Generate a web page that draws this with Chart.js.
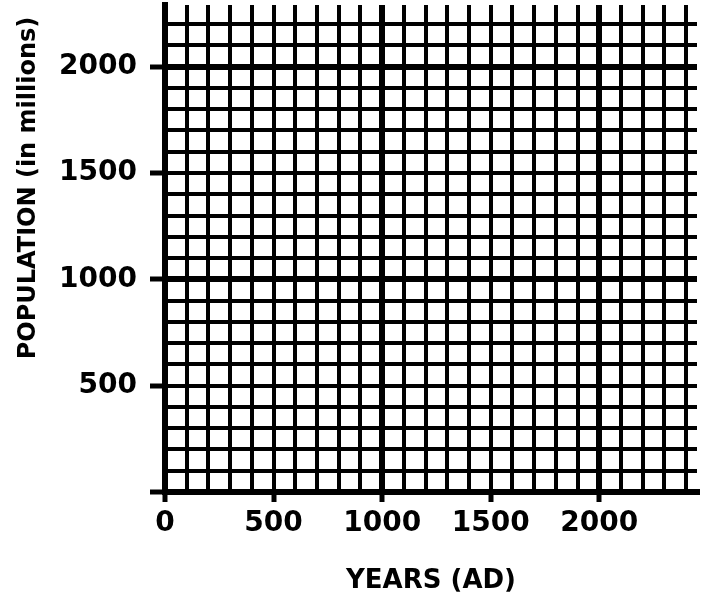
<!DOCTYPE html>
<html>
<head>
<meta charset="utf-8">
<script src="https://cdn.jsdelivr.net/npm/chart.js@4"></script>
<style>
  html, body { margin: 0; padding: 0; background: #fff; }
  #wrap { width: 701px; height: 603px; }
</style>
</head>
<body>
<div id="wrap"><canvas id="chart" width="701" height="603"></canvas></div>
<script>
// Axes ranges (blank worksheet grid)
const xMin = 0, xMax = 2450;
const yMin = 0, yMax = 2290;
// grid lines, one every 100
const xGrid = [0, 100, 200, 300, 400, 500, 600, 700, 800, 900, 1000, 1100, 1200,
  1300, 1400, 1500, 1600, 1700, 1800, 1900, 2000, 2100, 2200, 2300, 2400];
const yGrid = [0, 100, 200, 300, 400, 500, 600, 700, 800, 900, 1000, 1100,
  1200, 1300, 1400, 1500, 1600, 1700, 1800, 1900, 2000, 2100, 2200];
const xTickLabels = [0, 500, 1000, 1500, 2000];
const yTickLabels = [500, 1000, 1500, 2000];
const xTitle = "YEARS (AD)";
const yTitle = "POPULATION (in millions)";
// nothing plotted yet
const points = [];

const FONT = "'DejaVu Sans', sans-serif";

// heavier line every 1000
const gridWidth = (ctx) => (ctx.tick && ctx.tick.value % 1000 === 0 ? 6 : 4);

// Titre vertical dessiné à la main pour le placer comme sur l'original
const yTitlePlugin = {
  id: "yTitle",
  afterDraw(chart) {
    const c = chart.ctx;
    c.save();
    c.translate(29, 188);
    c.rotate(-Math.PI / 2);
    c.font = "bold 24px " + FONT;
    c.fillStyle = "#000";
    c.textAlign = "center";
    c.textBaseline = "middle";
    c.fillText(yTitle, 0, 0);
    c.restore();
  },
};

new Chart(document.getElementById("chart"), {
  type: "scatter",
  data: { datasets: [{ data: points, pointRadius: 0 }] },
  options: {
    responsive: false,
    animation: false,
    layout: { padding: { top: 5, right: 4, left: 0, bottom: 0 } },
    plugins: { legend: { display: false }, tooltip: { enabled: false } },
    scales: {
      x: {
        type: "linear",
        min: xMin,
        max: xMax,
        afterBuildTicks: (s) => { s.ticks = xGrid.map((v) => ({ value: v })); },
        afterFit: (s) => {
          s.height = 111;
          s.paddingLeft = 0;
          s.paddingRight = 0;
        },
        border: { display: true, color: "#000", width: 6 },
        grid: {
          color: "#000",
          lineWidth: gridWidth,
          tickLength: 10,
          tickWidth: 5,
          tickColor: (ctx) => (ctx.tick && xTickLabels.includes(ctx.tick.value) ? "#000" : "rgba(0,0,0,0)"),
        },
        ticks: {
          autoSkip: false,
          maxRotation: 0,
          padding: 5,
          color: "#000",
          font: { family: FONT, size: 28, weight: "bold" },
          callback: (v) => (xTickLabels.includes(v) ? String(v) : ""),
        },
        title: {
          display: true,
          text: xTitle,
          color: "#000",
          padding: { top: 0, bottom: 6 },
          font: { family: FONT, size: 26, weight: "bold" },
        },
      },
      y: {
        type: "linear",
        min: yMin,
        max: yMax,
        afterBuildTicks: (s) => { s.ticks = yGrid.map((v) => ({ value: v })); },
        afterFit: (s) => {
          s.width = 165;
          s.paddingTop = 0;
          s.paddingBottom = 0;
        },
        border: { display: true, color: "#000", width: 6 },
        grid: {
          color: "#000",
          lineWidth: gridWidth,
          tickLength: 15,
          tickWidth: 5,
          tickColor: (ctx) => (ctx.tick && ctx.tick.value % 500 === 0 ? "#000" : "rgba(0,0,0,0)"),
        },
        ticks: {
          autoSkip: false,
          padding: 13,
          color: "#000",
          font: { family: FONT, size: 28, weight: "bold" },
          callback: (v) => (yTickLabels.includes(v) ? String(v) : ""),
        },
      },
    },
  },
  plugins: [yTitlePlugin],
});
</script>
</body>
</html>
